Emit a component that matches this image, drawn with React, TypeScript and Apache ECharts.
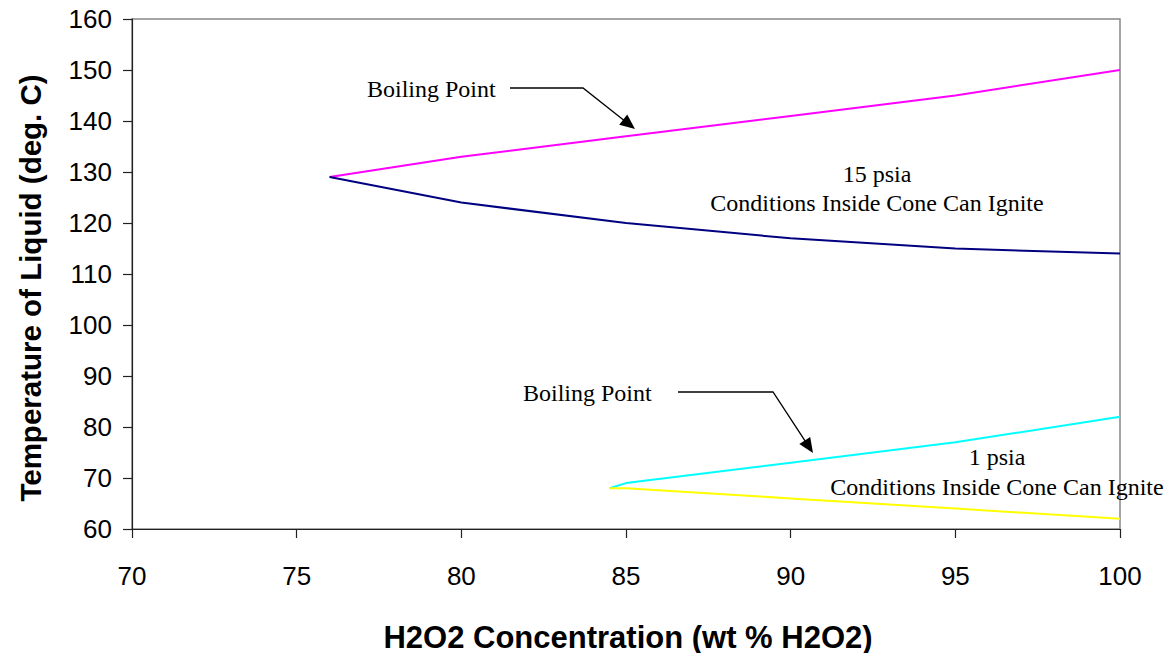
import React, { useEffect, useRef } from "react";
import * as echarts from "echarts";

// Data
const xBoil15 = [76, 80, 85, 90, 95, 100];
const yBoil15 = [129, 133, 137, 141, 145, 150];
const xIgnite15 = [76, 80, 85, 90, 95, 100];
const yIgnite15 = [129, 124, 120, 117, 115, 114];
const xBoil1 = [84.5, 85, 90, 95, 100];
const yBoil1 = [68, 69, 73, 77, 82];
const xIgnite1 = [84.5, 85, 90, 95, 100];
const yIgnite1 = [68, 68, 66, 64, 62];

const xTitle = "H2O2 Concentration (wt % H2O2)";
const yTitle = "Temperature of Liquid (deg. C)";

const SANS = "Arial, 'Liberation Sans', sans-serif";
const SERIF = "'Times New Roman', 'Liberation Serif', serif";

function pairs(xs: number[], ys: number[]) {
  return xs.map((x, i) => [x, ys[i]]);
}

function txt(text: string, x: number, y: number, size: number, family: string, align: string, weight = "normal", rotation = 0) {
  return {
    type: "text",
    x,
    y,
    rotation,
    silent: true,
    style: {
      text,
      fontSize: size,
      fontFamily: family,
      fontWeight: weight,
      fill: "#000",
      align,
      textAlign: align,
      verticalAlign: "middle",
      textVerticalAlign: "middle",
    },
  };
}

function arrow(pts: number[][], tip: number[]) {
  const last = pts[pts.length - 1];
  const dx = tip[0] - last[0];
  const dy = tip[1] - last[1];
  const len = Math.sqrt(dx * dx + dy * dy);
  const ux = dx / len;
  const uy = dy / len;
  const L = 15;
  const W = 6.5;
  const bx = tip[0] - ux * L;
  const by = tip[1] - uy * L;
  return [
    {
      type: "polyline",
      silent: true,
      shape: { points: [...pts, [bx + ux * 2, by + uy * 2]] },
      style: { stroke: "#000", lineWidth: 1.3, fill: null },
    },
    {
      type: "polygon",
      silent: true,
      shape: {
        points: [
          tip,
          [bx - uy * W, by + ux * W],
          [bx + uy * W, by - ux * W],
        ],
      },
      style: { fill: "#000" },
    },
  ];
}

export default function App() {
  const ref = useRef<HTMLDivElement>(null);
  useEffect(() => {
    if (!ref.current) return;
    const chart = echarts.init(ref.current, undefined, { renderer: "svg" });
    const lineStyle = (c: string) => ({ color: c, width: 2 });
    chart.setOption({
      animation: false,
      backgroundColor: "#fff",
      grid: {
        left: 132,
        right: 50,
        top: 19,
        bottom: 124,
        show: true,
        borderColor: "#888",
        borderWidth: 1.5,
        containLabel: false,
      },
      xAxis: {
        type: "value",
        min: 70,
        max: 100,
        interval: 5,
        axisLine: { show: true, lineStyle: { color: "#222", width: 1.2 } },
        axisTick: { show: true, inside: false, length: 9, lineStyle: { color: "#222", width: 1.2 } },
        axisLabel: { margin: 34, fontSize: 26, fontFamily: SANS, color: "#000" },
        splitLine: { show: false },
      },
      yAxis: {
        type: "value",
        min: 60,
        max: 160,
        interval: 10,
        axisLine: { show: true, lineStyle: { color: "#222", width: 1.2 } },
        axisTick: { show: true, inside: false, length: 9, lineStyle: { color: "#222", width: 1.2 } },
        axisLabel: { margin: 20, fontSize: 26, fontFamily: SANS, color: "#000" },
        splitLine: { show: false },
      },
      series: [
        {
          name: "Boiling Point 15 psia",
          type: "line",
          data: pairs(xBoil15, yBoil15),
          symbol: "none",
          lineStyle: lineStyle("#FF00FF"),
          z: 3,
        },
        {
          name: "Ignition 15 psia",
          type: "line",
          data: pairs(xIgnite15, yIgnite15),
          symbol: "none",
          lineStyle: lineStyle("#000080"),
          z: 3,
        },
        {
          name: "Boiling Point 1 psia",
          type: "line",
          data: pairs(xBoil1, yBoil1),
          symbol: "none",
          lineStyle: lineStyle("#00FFFF"),
          z: 3,
        },
        {
          name: "Ignition 1 psia",
          type: "line",
          data: pairs(xIgnite1, yIgnite1),
          symbol: "none",
          lineStyle: lineStyle("#FFFF00"),
          z: 3,
        },
      ],
      graphic: [
        txt(xTitle, 628, 637, 31, SANS, "center", "bold"),
        txt(yTitle, 30, 288, 29.5, SANS, "center", "bold", Math.PI / 2),
        txt("Boiling Point", 367, 89, 24, SERIF, "left"),
        ...arrow([[510, 88], [583, 88]], [635, 129]),
        txt("Boiling Point", 523, 393, 24, SERIF, "left"),
        ...arrow([[678, 392], [773, 392]], [813, 453]),
        txt("15 psia", 877, 174, 24, SERIF, "center"),
        txt("Conditions Inside Cone Can Ignite", 877, 203, 24, SERIF, "center"),
        txt("1 psia", 997, 457, 24, SERIF, "center"),
        txt("Conditions Inside Cone Can Ignite", 997, 487, 24, SERIF, "center"),
      ],
    });
    return () => chart.dispose();
  }, []);
  return <div ref={ref} style={{ width: 1170, height: 653, position: "absolute", left: 0, top: 0 }} />;
}
